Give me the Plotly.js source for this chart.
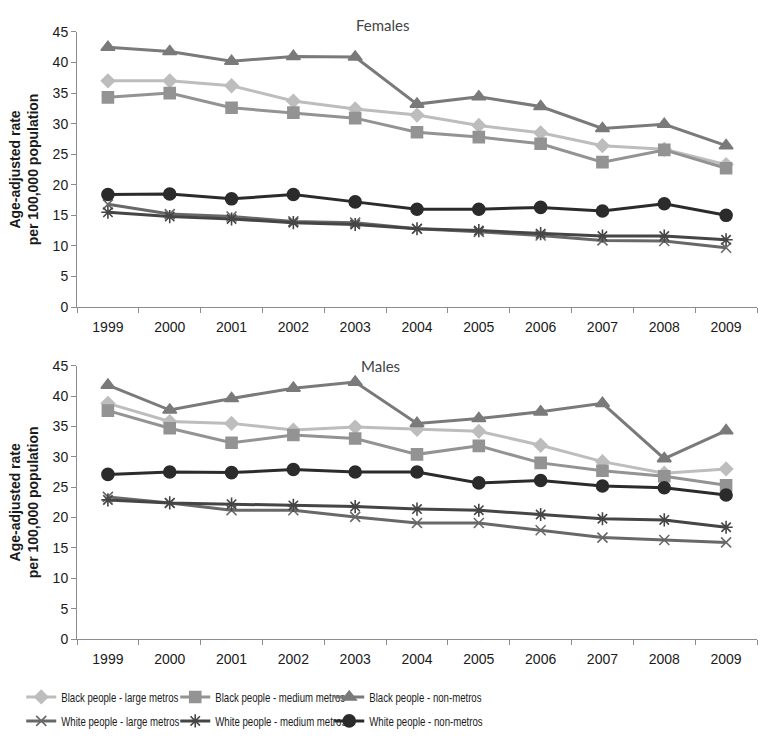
<!DOCTYPE html>
<html>
<head>
<meta charset="utf-8">
<script src="https://cdn.plot.ly/plotly-3.0.1.min.js"></script>
<style>
  html, body { margin: 0; padding: 0; background: #fff; }
  #plot { width: 765px; height: 743px; }
</style>
</head>
<body>
<div id="plot"></div>
<script>
// years on the x axis
const years = ['1999', '2000', '2001', '2002', '2003', '2004', '2005', '2006', '2007', '2008', '2009'];

const seriesNames = [
    'Black people - large metros',
    'Black people - medium metros',
    'Black people - non-metros',
    'White people - large metros',
    'White people - medium metros',
    'White people - non-metros'
];

// Females, age-adjusted rate per 100,000
const femBlackLarge  = [37.0, 37.0, 36.2, 33.7, 32.4, 31.4, 29.7, 28.5, 26.4, 25.8, 23.3];
const femBlackMedium = [34.3, 35.0, 32.6, 31.8, 30.9, 28.6, 27.8, 26.7, 23.7, 25.7, 22.7];
const femBlackNon    = [42.5, 41.8, 40.2, 41.0, 40.9, 33.2, 34.4, 32.8, 29.2, 29.9, 26.4];
const femWhiteLarge  = [16.8, 15.2, 14.8, 14.0, 13.8, 12.8, 12.3, 11.7, 10.9, 10.8, 9.7];
const femWhiteMedium = [15.5, 14.8, 14.4, 13.8, 13.5, 12.8, 12.5, 12.0, 11.6, 11.6, 11.0];
const femWhiteNon    = [18.4, 18.5, 17.7, 18.4, 17.2, 16.0, 16.0, 16.3, 15.7, 16.9, 15.0];

// Males
const maleBlackLarge  = [38.8, 35.8, 35.5, 34.4, 34.9, 34.5, 34.2, 31.9, 29.2, 27.3, 28.0];
const maleBlackMedium = [37.6, 34.7, 32.3, 33.6, 33.0, 30.4, 31.8, 29.0, 27.7, 26.8, 25.3];
const maleBlackNon    = [41.8, 37.7, 39.6, 41.3, 42.3, 35.5, 36.3, 37.4, 38.8, 29.7, 34.3];
const maleWhiteLarge  = [23.4, 22.4, 21.2, 21.2, 20.1, 19.1, 19.1, 17.9, 16.7, 16.3, 15.9];
const maleWhiteMedium = [22.9, 22.4, 22.2, 22.0, 21.8, 21.4, 21.2, 20.5, 19.8, 19.6, 18.4];
const maleWhiteNon    = [27.1, 27.5, 27.4, 27.9, 27.5, 27.5, 25.7, 26.1, 25.2, 24.9, 23.7];

const styles = [
    {color: '#bdbdbd', symbol: 'diamond', size: 10},
    {color: '#939393', symbol: 'square', size: 11},
    {color: '#7a7a7a', symbol: 'triangle-up', size: 12},
    {color: '#686868', symbol: 'x-thin-open', size: 10},
    {color: '#454545', symbol: 'asterisk-open', size: 11},
    {color: '#2b2b2b', symbol: 'circle', size: 12}
];

function makeTrace(i, yvals, xa, ya, showLegend) {
    const s = styles[i];
    return {
        x: years,
        y: yvals,
        xaxis: xa,
        yaxis: ya,
        name: seriesNames[i],
        type: 'scatter',
        mode: 'lines+markers',
        line: {color: s.color, width: 3},
        marker: {color: s.color, symbol: s.symbol, size: s.size,
                 line: {color: s.color, width: 1.6}},
        showlegend: showLegend,
        legend: i < 3 ? 'legend' : 'legend2'
    };
}

const femData  = [femBlackLarge, femBlackMedium, femBlackNon, femWhiteLarge, femWhiteMedium, femWhiteNon];
const maleData = [maleBlackLarge, maleBlackMedium, maleBlackNon, maleWhiteLarge, maleWhiteMedium, maleWhiteNon];

let data = [];
femData.forEach((d, i) => data.push(makeTrace(i, d, 'x', 'y', true)));
maleData.forEach((d, i) => data.push(makeTrace(i, d, 'x2', 'y2', false)));

const tickFont = {family: 'Liberation Sans, Arial, sans-serif', size: 14, color: '#1a1a1a'};
const yTitle = {
    text: '<b>Age-adjusted rate<br>per 100,000 population</b>',
    font: {family: 'Liberation Sans, Arial, sans-serif', size: 14, color: '#1a1a1a'},
    standoff: 10
};

function xAxis(anchor) {
    return {
        type: 'category',
        range: [-0.5, 10.5],
        anchor: anchor,
        showline: true, linecolor: '#8c8c8c', linewidth: 1,
        ticks: 'outside', tickson: 'boundaries', ticklen: 5, tickcolor: '#8c8c8c',
        ticklabelstandoff: 7,
        showgrid: false, zeroline: false,
        tickfont: tickFont
    };
}

function yAxis(anchor, domain) {
    return {
        range: [0, 45], dtick: 5,
        domain: domain,
        anchor: anchor,
        showline: true, linecolor: '#8c8c8c', linewidth: 1,
        ticks: 'outside', ticklen: 5, tickcolor: '#8c8c8c',
        showgrid: false, zeroline: false,
        tickfont: tickFont,
        title: yTitle
    };
}

const legendFont = {family: 'Liberation Sans, Arial, sans-serif', size: 13, color: '#1a1a1a'};

const layout = {
    width: 765, height: 743,
    margin: {l: 77, r: 8, t: 0, b: 60},
    paper_bgcolor: '#ffffff',
    plot_bgcolor: '#ffffff',
    xaxis: xAxis('y'),
    yaxis: yAxis('x', [0.5505, 0.9532]),
    xaxis2: xAxis('y2'),
    yaxis2: yAxis('x2', [0.0644, 0.4646]),
    legend: {
        orientation: 'h', x: -0.082, xanchor: 'left', y: -0.0205, yanchor: 'middle',
        entrywidth: 109, font: legendFont, itemwidth: 30, traceorder: 'normal'
    },
    legend2: {
        orientation: 'h', x: -0.082, xanchor: 'left', y: -0.0556, yanchor: 'middle',
        entrywidth: 109, font: legendFont, itemwidth: 30, traceorder: 'normal'
    },
    annotations: [
        {text: 'Females', xref: 'paper', yref: 'paper', x: 0.45, y: 0.9634,
         xanchor: 'center', yanchor: 'middle', showarrow: false,
         font: {family: 'Lato, Open Sans, sans-serif', size: 15, color: '#444'}},
        {text: 'Males', xref: 'paper', yref: 'paper', x: 0.4456, y: 0.4641,
         xanchor: 'center', yanchor: 'middle', showarrow: false,
         font: {family: 'Lato, Open Sans, sans-serif', size: 15, color: '#444'}}
    ]
};

const plotDiv = document.getElementById('plot');
const measureCtx = document.createElement('canvas').getContext('2d');
measureCtx.font = legendFont.size + 'px "Liberation Sans", Arial, sans-serif';

// the legend in the original uses a narrow face; squeeze the text to match
// (plotly names the text class after the legend id: legendtext, legend2text)
function squeezeLegend() {
    plotDiv.querySelectorAll('.legendtext, .legend2text').forEach(t => {
        if (t.getAttribute('lengthAdjust')) return;
        const w = measureCtx.measureText(t.textContent).width;
        t.setAttribute('textLength', (w * 0.74).toFixed(1));
        t.setAttribute('lengthAdjust', 'spacingAndGlyphs');
    });
}

// legends can be redrawn after the margins settle, so watch for changes
new MutationObserver(squeezeLegend).observe(plotDiv, {childList: true, subtree: true, attributes: true});

Plotly.newPlot(plotDiv, data, layout, {displayModeBar: false, staticPlot: true}).then(squeezeLegend);
</script>
</body>
</html>
